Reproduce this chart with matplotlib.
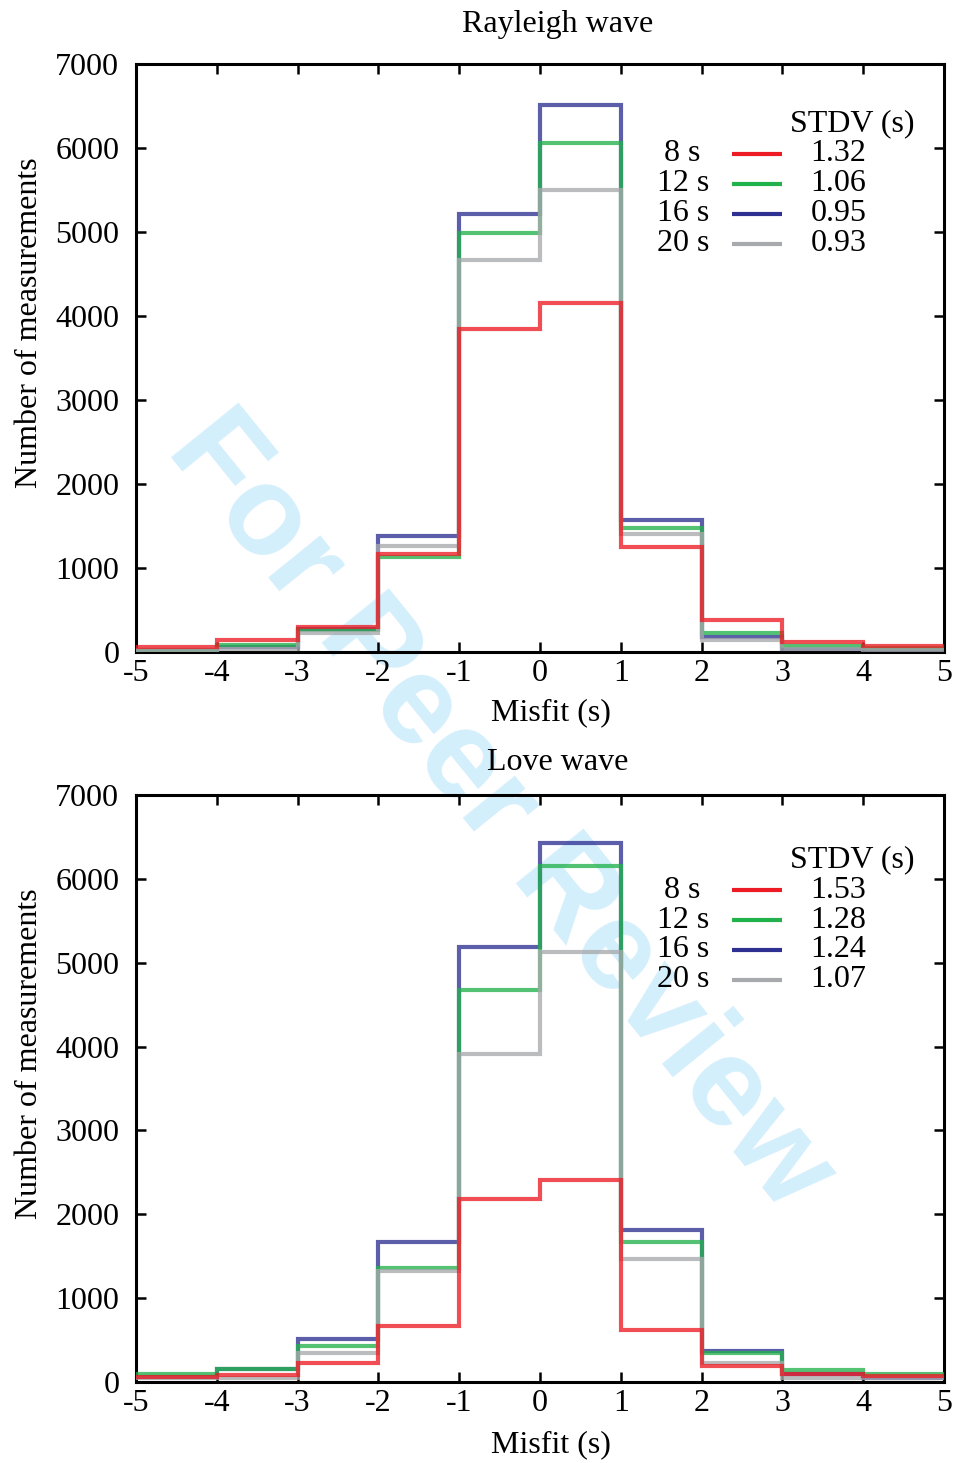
import numpy as np
import matplotlib
matplotlib.use("Agg")
import matplotlib.pyplot as plt

plt.rcParams['font.family'] = ['Liberation Serif', 'DejaVu Serif']
plt.rcParams['axes.unicode_minus'] = False

# histogram bin edges of the misfit (s)
edges = np.arange(-5, 6, 1)

periods = ['8 s', '12 s', '16 s', '20 s']

# Rayleigh wave counts per bin
ray_8 = [60, 138, 297, 1170, 3845, 4155, 1254, 381, 123, 71]
ray_12 = [30, 88, 258, 1135, 4988, 6060, 1472, 230, 75, 44]
ray_16 = [25, 60, 270, 1383, 5214, 6512, 1571, 183, 40, 30]
ray_20 = [20, 40, 222, 1264, 4667, 5500, 1405, 143, 36, 25]
ray_stdv = ['1.32', '1.06', '0.95', '0.93']

# Love wave counts per bin
love_8 = [56, 83, 223, 667, 2181, 2408, 620, 191, 95, 72]
love_12 = [95, 155, 429, 1362, 4672, 6150, 1672, 342, 143, 95]
love_16 = [60, 150, 509, 1665, 5185, 6424, 1812, 369, 100, 50]
love_20 = [44, 44, 342, 1327, 3909, 5125, 1462, 230, 44, 44]
love_stdv = ['1.53', '1.28', '1.24', '1.07']

colors = ['#ed1c24', '#22b24c', '#2e3192', '#a7a9ac']
draw_order = [2, 1, 3, 0]  # blue, green, gray, then red on top

fig = plt.figure(figsize=(9.56, 14.63), dpi=100)
ax1 = fig.add_axes([0.1423, 0.5543, 0.8452, 0.4020])
ax2 = fig.add_axes([0.1423, 0.0554, 0.8452, 0.4012])

FS = 23
key_right = [0.698, 0.710, 0.710, 0.710]


def draw_panel(ax, series, stdv, title, title_y, xlab_y, leg_y):
    ax.set_facecolor('none')
    for i in draw_order:
        ax.stairs(series[i], edges, color=colors[i], lw=3.0, alpha=0.78,
                  baseline=None, zorder=2 + draw_order.index(i))
    ax.set_xlim(-5, 5)
    ax.set_ylim(0, 7000)
    ax.set_xticks(range(-5, 6))
    ax.set_yticks(range(0, 7001, 1000))
    ax.tick_params(direction='in', top=True, right=True, length=7, width=1.8,
                   labelsize=FS, colors='black')
    ax.tick_params(axis='x', pad=5)
    ax.tick_params(axis='y', pad=12)
    for s in ax.spines.values():
        s.set_linewidth(2.2)
    ax.set_xlabel('Misfit (s)', fontsize=FS)
    ax.xaxis.set_label_coords(0.514, xlab_y)
    ax.set_ylabel('Number of measurements', fontsize=FS)
    ax.yaxis.set_label_coords(-0.114, 0.56)
    ax.text(0.522, title_y, title, transform=ax.transAxes, fontsize=FS,
            ha='center', va='center')

    # hand-made key with standard deviations
    ax.text(0.809, leg_y[0], 'STDV (s)', transform=ax.transAxes, fontsize=FS,
            ha='left', va='center')
    for k in range(4):
        y = leg_y[k + 1]
        ax.text(key_right[k], y, periods[k], transform=ax.transAxes,
                fontsize=FS, ha='right', va='center')
        ax.plot([0.738, 0.800], [y, y], transform=ax.transAxes,
                color=colors[k], lw=3.0, solid_capstyle='butt')
        ax.text(0.835, y, stdv[k], transform=ax.transAxes, fontsize=FS,
                ha='left', va='center')


draw_panel(ax1, [ray_8, ray_12, ray_16, ray_20], ray_stdv, 'Rayleigh wave',
           1.067, -0.078, [0.899, 0.847, 0.796, 0.745, 0.694])
draw_panel(ax2, [love_8, love_12, love_16, love_20], love_stdv, 'Love wave',
           1.055, -0.082, [0.890, 0.838, 0.787, 0.736, 0.685])

# review watermark across both panels
fig.text(0.523, 0.445, 'For Peer Review', fontsize=91, fontweight='bold',
         family='Liberation Sans', color='#d4effc', rotation=-51,
         ha='center', va='center', rotation_mode='anchor', zorder=-1)

fig.savefig('out.png', dpi=100, facecolor='white')
